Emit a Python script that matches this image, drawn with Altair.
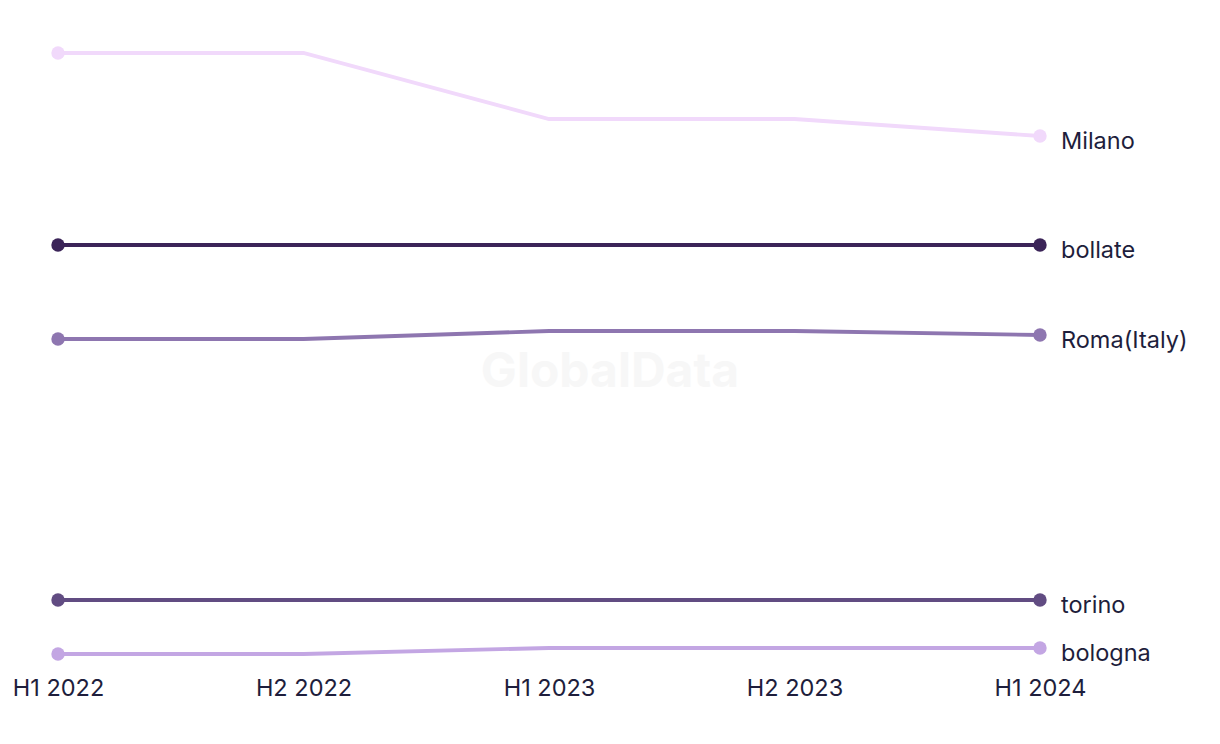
import altair as alt
import pandas as pd

periods = ["H1 2022", "H2 2022", "H1 2023", "H2 2023", "H1 2024"]
cities = ["Milano", "bollate", "Roma(Italy)", "torino", "bologna"]
colors = ["#F1D9FB", "#3B2458", "#8E76B0", "#614C82", "#C3A6E3"]
milano = [64.7, 64.7, 58.1, 58.1, 56.4]
bollate = [45.5, 45.5, 45.5, 45.5, 45.5]
roma = [36.1, 36.1, 36.9, 36.9, 36.5]
torino = [10.0, 10.0, 10.0, 10.0, 10.0]
bologna = [4.6, 4.6, 5.2, 5.2, 5.2]

series = [milano, bollate, roma, torino, bologna]
rows = []
for city, vals in zip(cities, series):
    for i, (p, v) in enumerate(zip(periods, vals)):
        rows.append({"city": city, "period": p, "value": v, "idx": i})
df = pd.DataFrame(rows)

x_enc = alt.X("period:N", sort=periods, scale=alt.Scale(type="point", padding=0),
              axis=alt.Axis(title=None, domain=False, ticks=False, grid=False,
                            labelFontSize=23.5, labelColor="#1E1E3C", labelFont="Inter",
                            labelFontWeight=400, labelPadding=6, labelAngle=0))
y_enc = alt.Y("value:Q", scale=alt.Scale(domain=[3.0, 64.7], nice=False, zero=False),
              axis=None)
color_enc = alt.Color("city:N", scale=alt.Scale(domain=cities, range=colors), legend=None)

base = alt.Chart(df)
lines = base.mark_line(strokeWidth=3.8, interpolate="linear").encode(
    x=x_enc, y=y_enc, color=color_enc, detail="city:N")
ends = base.transform_filter("datum.idx == 0 || datum.idx == 4").mark_circle(
    size=180, opacity=1).encode(x=x_enc, y=y_enc, color=color_enc)
labels = base.transform_filter("datum.idx == 4").mark_text(
    align="left", dx=21, dy=6, fontSize=23.5, font="Inter", color="#1E1E3C").encode(
    x=x_enc, y=y_enc, text="city:N")
wm = alt.Chart(pd.DataFrame({"t": ["GlobalData"]})).mark_text(
    fontSize=48, fontWeight="bold", font="Inter", color="#F7F7F7").encode(
    x=alt.value(552), y=alt.value(320), text="t:N")

chart = alt.layer(wm, lines, ends, labels).properties(
    width=982, height=617,
    background="white",
    autosize=alt.AutoSizeParams(type="none"),
    padding={"left": 58, "top": 53, "right": 180, "bottom": 74},
).configure_view(strokeWidth=0, stroke=None)

chart.save("out.html", embed_options={"renderer": "svg", "actions": False})
